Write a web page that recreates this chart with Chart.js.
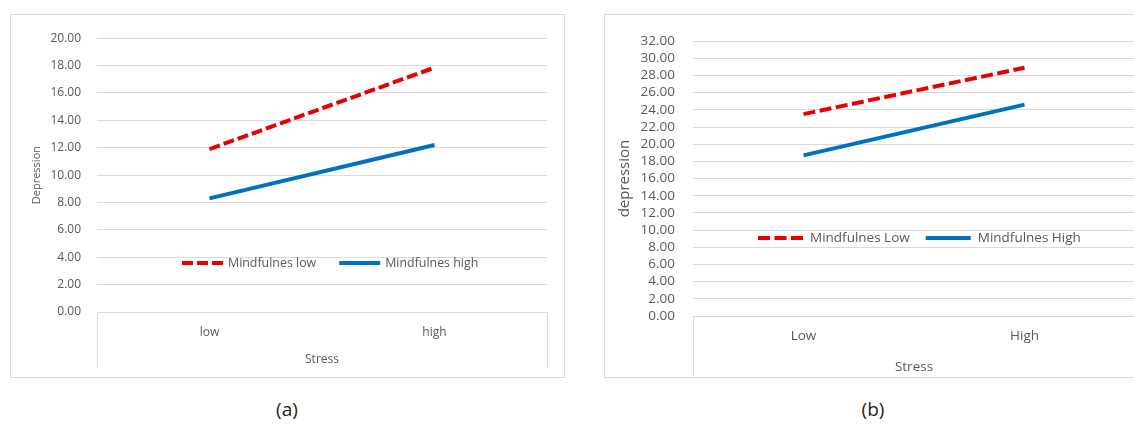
<!DOCTYPE html>
<html>
<head>
<meta charset="utf-8">
<script src="https://cdn.jsdelivr.net/npm/chart.js@4.4.1/dist/chart.umd.min.js"></script>
<style>
  html, body { margin: 0; padding: 0; background: #fff; overflow: hidden; }
  body { width: 1134px; height: 426px; position: relative; font-family: "Open Sans", sans-serif; }
  .panel { position: absolute; border: 1px solid #d9d9d9; }
  .panel canvas { display: block; }
  .cap { position: absolute; top: 396px; font-size: 19px; color: #222; transform: translateX(-50%); }
</style>
</head>
<body>
<div class="panel" style="left:10px; top:14px;"><canvas id="chartA" width="553" height="362"></canvas></div>
<div class="panel" style="left:604px; top:14px;"><canvas id="chartB" width="540" height="362"></canvas></div>
<div class="cap" style="left:287px">(a)</div>
<div class="cap" style="left:873px">(b)</div>
<script>
// panel (a)
const stressA = ['low', 'high'];
const seriesA = ['Mindfulnes low', 'Mindfulnes high'];
const lowMindA = [11.9, 17.85];
const highMindA = [8.3, 12.2];
const yMaxA = 20;

// panel (b)
const stressB = ['Low', 'High'];
const seriesB = ['Mindfulnes Low', 'Mindfulnes High'];
const lowMindB = [23.5, 28.9];
const highMindB = [18.7, 24.6];
const yMaxB = 32;

const FONT = '"Open Sans", sans-serif';
const GREY = '#595959';

// excel style box around the category axis (only the outer verticals)
const categoryBox = {
  id: 'categoryBox',
  afterDraw(chart, args, o) {
    const { ctx, chartArea: a } = chart;
    ctx.save();
    ctx.strokeStyle = o.color;
    ctx.lineWidth = 1;
    ctx.beginPath();
    [a.left, a.right].forEach(x => {
      const px = Math.round(x) + 0.5;
      ctx.moveTo(px, a.bottom);
      ctx.lineTo(px, o.bottom);
    });
    ctx.stroke();
    ctx.restore();
  }
};

// legend drawn inside the plot, like the excel one
const innerLegend = {
  id: 'innerLegend',
  afterDatasetsDraw(chart, args, o) {
    const ctx = chart.ctx;
    ctx.save();
    ctx.font = o.size + 'px ' + FONT;
    ctx.textBaseline = 'middle';
    let x = o.x;
    chart.data.datasets.forEach(ds => {
      ctx.strokeStyle = ds.borderColor;
      ctx.lineWidth = ds.borderWidth;
      ctx.setLineDash(ds.borderDash || []);
      ctx.beginPath();
      ctx.moveTo(x, o.y);
      ctx.lineTo(x + o.sample, o.y);
      ctx.stroke();
      ctx.setLineDash([]);
      x += o.sample + o.textGap;
      ctx.fillStyle = GREY;
      ctx.fillText(ds.label, x, o.y);
      x += ctx.measureText(ds.label).width + o.itemGap;
    });
    ctx.restore();
  }
};

function makeChart(id, labels, names, low, high, yMax, c) {
  const data = {
    labels: labels,
    datasets: [{
      label: names[0],
      data: low,
      borderColor: '#e60000',
      borderWidth: 4,
      borderDash: c.dash,
      pointRadius: 0,
      fill: false
    }, {
      label: names[1],
      data: high,
      borderColor: '#0070c0',
      borderWidth: 4,
      pointRadius: 0,
      fill: false
    }]
  };

  const options = {
    responsive: false,
    animation: false,
    devicePixelRatio: 1,
    layout: { padding: { left: 0, right: c.padRight, top: c.padTop, bottom: 0 } },
    plugins: {
      legend: { display: false },
      tooltip: { enabled: false },
      innerLegend: c.legend,
      categoryBox: { color: '#d9d9d9', bottom: c.boxBottom }
    },
    scales: {
      x: {
        offset: true,
        grid: { display: false, drawTicks: false },
        border: { display: false },
        ticks: { color: GREY, font: { family: FONT, size: c.font }, padding: c.xTickPad },
        title: {
          display: true, text: 'Stress', color: GREY,
          font: { family: FONT, size: c.font },
          padding: { top: 0, bottom: c.xTitlePad }
        },
        afterFit: s => { s.height = c.xHeight; }
      },
      y: {
        min: 0,
        max: yMax,
        grid: { color: '#d9d9d9', drawTicks: false },
        border: { display: false },
        ticks: {
          stepSize: 2, autoSkip: false, color: GREY, padding: c.yTickPad,
          font: { family: FONT, size: c.font },
          callback: v => v.toFixed(2)
        },
        title: {
          display: true, text: c.yTitle, color: GREY,
          font: { family: FONT, size: c.yTitleSize },
          padding: { top: c.yTitlePad, bottom: 0 }
        },
        afterFit: s => { s.width = c.yWidth; }
      }
    }
  };

  return new Chart(document.getElementById(id), {
    type: 'line',
    data: data,
    options: options,
    plugins: [categoryBox, innerLegend]
  });
}

makeChart('chartA', stressA, seriesA, lowMindA, highMindA, yMaxA, {
  dash: [11, 4], padRight: 17, padTop: 16.5, font: 12,
  xTickPad: 13, xTitlePad: 10, xHeight: 65, boxBottom: 353,
  yTickPad: 16, yWidth: 86, yTitle: 'Depression', yTitleSize: 11, yTitlePad: 19,
  legend: { x: 171, y: 248, size: 12.4, sample: 41, textGap: 5, itemGap: 23 }
});

makeChart('chartB', stressB, seriesB, lowMindB, highMindB, yMaxB, {
  dash: [12, 4.5], padRight: 10, padTop: 21.5, font: 13.5,
  xTickPad: 12.5, xTitlePad: 2, xHeight: 61, boxBottom: 361,
  yTickPad: 18, yWidth: 88, yTitle: 'depression', yTitleSize: 15, yTitlePad: 11,
  legend: { x: 153, y: 223, size: 13.5, sample: 45, textGap: 7, itemGap: 16 }
});
</script>
</body>
</html>
